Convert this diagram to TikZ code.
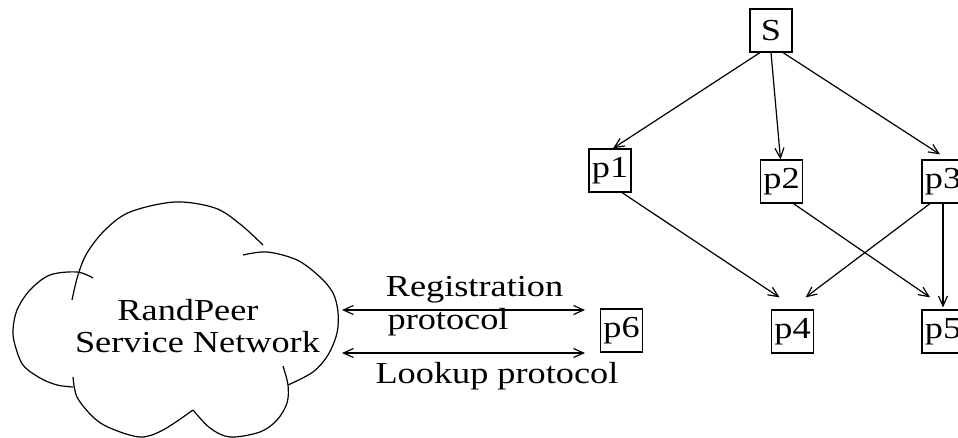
\documentclass[tikz,border=0pt]{standalone}
\usepackage{fontspec}
\setmainfont{Liberation Serif}[FakeStretch=1.19]
\usetikzlibrary{arrows.meta}
\begin{document}
\begin{tikzpicture}[x=1pt,y=-1pt,line width=1.2pt,
  box/.style={draw, minimum width=42pt, minimum height=43pt, inner sep=0pt,
              font=\fontsize{30.5}{36}\selectfont},
  lbl/.style={inner sep=0pt, anchor=base, font=\fontsize{30.5}{36}\selectfont},
  arr/.style={-{Straight Barb[length=10pt,width=9pt]}},
  arrboth/.style={{Straight Barb[length=10pt,width=9pt]}-{Straight Barb[length=10pt,width=9pt]}},
  bump/.style={smooth, tension=0.55}]
\useasboundingbox (0,0) rectangle (958,438);

% peer boxes
\node[box] (S)  at (771,30.5)    {S};
\node[box] (p1) at (610,170.5)   {p1};
\node[box] (p2) at (781.5,181.5) {p2};
\node[box] (p3) at (943,181.5)   {p3};
\node[box] (p4) at (792.5,331.5) {p4};
\node[box] (p5) at (943,331.5)   {p5};
\node[box] (p6) at (621.5,330.5) {p6};

% dissemination tree
\draw[arr] ([xshift=-11pt]S.south) -- ([xshift=3pt]p1.north);
\draw[arr] (S.south) -- ([xshift=-1pt]p2.north);
\draw[arr] ([xshift=12pt]S.south) -- ([xshift=-3pt,yshift=5pt]p3.north);
\draw[arr] ([xshift=12pt]p1.south) -- ([xshift=-13pt,yshift=12pt]p4.north);
\draw[arr] ([xshift=12pt]p2.south) -- ([xshift=-13pt,yshift=12pt]p5.north);
\draw[arr] ([xshift=-13pt]p3.south) -- ([xshift=13pt,yshift=12pt]p4.north);
\draw[arr] (p3.south) -- ([yshift=2pt]p5.north);

% cloud outline, drawn as overlapping bumps
\draw plot[bump] coordinates {(93,278) (77,272) (50,275) (30,290) (17,310) (13,330)
  (15,345) (23,365) (40,378) (57,385) (73,387)};
\draw plot[bump] coordinates {(72,300) (78,275) (87,253) (105,230) (130,212) (175,202)
  (215,208) (240,224) (263,245)};
\draw plot[bump] coordinates {(243,255) (267,252) (297,260) (320,277) (333,293) (338,312)
  (337,333) (328,355) (313,372) (288,385)};
\draw plot[bump] coordinates {(73,377) (77,397) (93,417) (110,428) (140,437) (163,430) (193,410)};
\draw plot[bump] coordinates {(193,410) (210,428) (230,437) (260,432) (277,420) (287,403)
  (288,385) (283,366)};

% cloud caption
\node[lbl] (c1) at (188,320) {RandPeer};
\node[lbl] (c2) at (197.5,352) {Service Network};

% protocol links
\coordinate (r1) at (342,310);
\coordinate (r2) at (585,310);
\coordinate (l1) at (342,353);
\coordinate (l2) at (585,353);
\draw[arrboth] (r1) -- (r2);
\draw[arrboth] (l1) -- (l2);
\node[lbl] (reg) at (474.5,297) {Registration};
\node[lbl, anchor=base west] (prot) at (387,329) {protocol};
\node[lbl] (look) at (497,383) {Lookup protocol};
\end{tikzpicture}
\end{document}
